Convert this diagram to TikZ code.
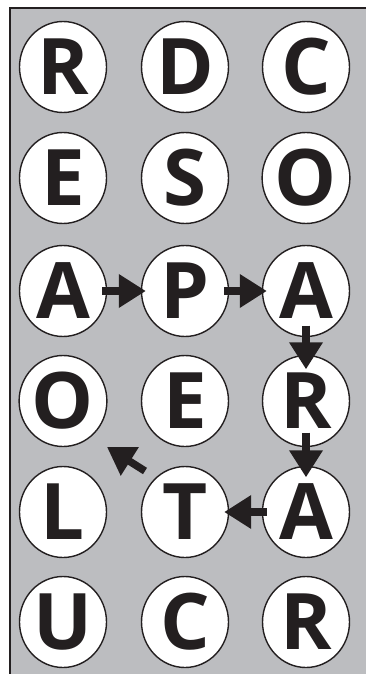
\documentclass[tikz,border=0pt]{standalone}
\usepackage{fontspec}
\newfontfamily\lettfont{Open Sans}[Scale=1.0]
\usetikzlibrary{shapes.geometric,arrows.meta}
\definecolor{bggray}{HTML}{BCBDC0}
\definecolor{ink}{HTML}{231F20}
\newcommand\bigletter[1]{\fontsize{78pt}{78pt}\selectfont\lettfont\bfseries #1}
\begin{document}
\begin{tikzpicture}[x=1pt,y=-1pt,
  letter/.style={ellipse,draw=ink,fill=white,line width=1.4pt,minimum width=87pt,minimum height=91pt,inner sep=0pt,text=ink},
  arr/.style={draw=ink,line width=7.5pt,-{Triangle[length=27pt,width=32pt]}},
]
\useasboundingbox (0,0) rectangle (366,674);
\fill[white] (0,0) rectangle (366,674);
\fill[bggray] (10,8) rectangle (366,674);
\draw[ink,line width=1.6pt] (10,674) -- (10,8) -- (366,8);
% row 1
\node[letter] (r1c1) at (63,67) {\bigletter{R}};
\node[letter] (r1c2) at (185,67) {\bigletter{D}};
\node[letter] (r1c3) at (306,67) {\bigletter{C}};
% row 2
\node[letter] (r2c1) at (63,178) {\bigletter{E}};
\node[letter] (r2c2) at (185,178) {\bigletter{S}};
\node[letter] (r2c3) at (306,178) {\bigletter{O}};
% row 3
\node[letter] (r3c1) at (63,291) {\bigletter{A}};
\node[letter] (r3c2) at (185,291) {\bigletter{P}};
\node[letter] (r3c3) at (306,291) {\bigletter{A}};
% row 4
\node[letter] (r4c1) at (63,401) {\bigletter{O}};
\node[letter] (r4c2) at (185,401) {\bigletter{E}};
\node[letter] (r4c3) at (306,401) {\bigletter{R}};
% row 5
\node[letter] (r5c1) at (63,512) {\bigletter{L}};
\node[letter] (r5c2) at (185,512) {\bigletter{T}};
\node[letter] (r5c3) at (306,512) {\bigletter{A}};
% row 6
\node[letter] (r6c1) at (63,622) {\bigletter{U}};
\node[letter] (r6c2) at (185,622) {\bigletter{C}};
\node[letter] (r6c3) at (306,622) {\bigletter{R}};
% arrows
\draw[arr,shorten <=-5pt,shorten >=-5pt] (r3c1.east) -- (r3c2.west);
\draw[arr,shorten <=-5pt,shorten >=-5pt] (r3c2.east) -- (r3c3.west);
\draw[arr,shorten <=-11.5pt,shorten >=-14.5pt] (r3c3.south) -- (r4c3.north);
\draw[arr,shorten <=-14.5pt,shorten >=-11.5pt] (r4c3.south) -- (r5c3.north);
\draw[arr,shorten <=-5pt,shorten >=-5pt] (r5c3.west) -- (r5c2.east);
\coordinate (dstart) at (145,471);
\coordinate (dtip) at (107,447);
\draw[arr] (dstart) -- (dtip);
\end{tikzpicture}
\end{document}
